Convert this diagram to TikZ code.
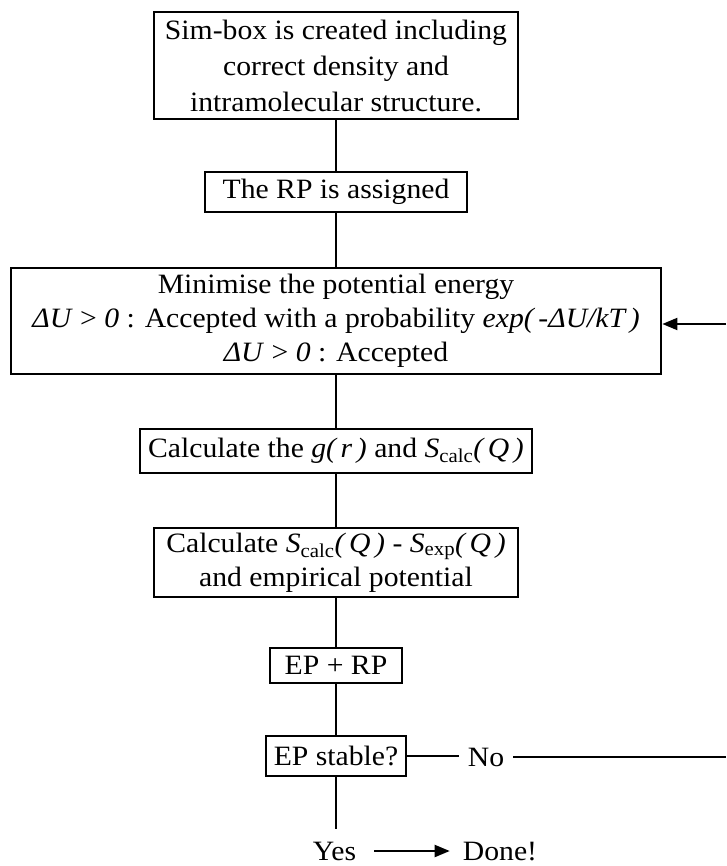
\documentclass[tikz,border=0pt]{standalone}
\usepackage{fontspec}
\setmainfont{Liberation Serif}[FakeStretch=1.06]
\usetikzlibrary{arrows.meta}
\begin{document}
\begin{tikzpicture}[x=1pt,y=-1pt,
  box/.style={draw, line width=2.7pt, inner sep=0pt, align=center, font=\fontsize{28}{34}\selectfont},
  conn/.style={line width=2pt},
  arr/.style={line width=2pt, -{Triangle[length=15pt,width=12pt]}},
  lbl/.style={inner sep=0pt, anchor=base, font=\fontsize{28}{34}\selectfont}]
\useasboundingbox (0,0) rectangle (726,866);
\node[box, minimum width=364pt, minimum height=107pt, font=\fontsize{28}{36}\selectfont] (b1) at (336,65.5)
  {Sim-box is created including\\correct density and\\intramolecular structure.};
\node[box, minimum width=262pt, minimum height=40pt] (b2) at (336,192) {The RP is assigned};
\node[box, minimum width=650pt, minimum height=106pt] (b3) at (336,321)
  {Minimise the potential energy\\
   \textit{ΔU} > \textit{0} : Accepted with a probability \textit{exp(\,-ΔU/kT\,)}\\
   \textit{ΔU} > \textit{0} : Accepted};
\node[box, minimum width=392pt, minimum height=44pt] (b4) at (336,451)
  {Calculate the \textit{g(\,r\,)} and \textit{S}\textsubscript{calc}\textit{(\,Q\,)}};
\node[box, minimum width=364pt, minimum height=69pt] (b5) at (336,562.5)
  {Calculate \textit{S}\textsubscript{calc}\textit{(\,Q\,)} - \textit{S}\textsubscript{exp}\textit{(\,Q\,)}\\and empirical potential};
\node[box, minimum width=132pt, minimum height=35pt] (b6) at (336,665.5) {EP + RP};
\node[box, minimum width=140pt, minimum height=40pt] (b7) at (336,756) {EP stable?};
\node[lbl, inner xsep=9pt] (no) at (486,766) {No};
\node[lbl] (yes) at (334.5,860) {Yes};
\node[lbl] (done) at (500,860) {Done!};
\coordinate (yesTop) at (336,829);
\coordinate (noEnd) at (726,757);
\coordinate (fbStart) at (726,324);
\draw[conn] (b1.south) -- (b2.north);
\draw[conn] (b2.south) -- (b3.north);
\draw[conn] (b3.south) -- (b4.north);
\draw[conn] (b4.south) -- (b5.north);
\draw[conn] (b5.south) -- (b6.north);
\draw[conn] (b6.south) -- (b7.north);
\draw[conn] (b7.south) -- (yesTop);
\draw[conn] (b7.east) -- (no.west |- b7.east);
\draw[conn] (no.east |- noEnd) -- (noEnd);
\draw[arr] (fbStart) -- (b3.east |- fbStart);
\draw[arr] ([shift={(18pt,9pt)}]yes.base east) -- ([shift={(-13pt,9pt)}]done.base west);
\end{tikzpicture}
\end{document}
